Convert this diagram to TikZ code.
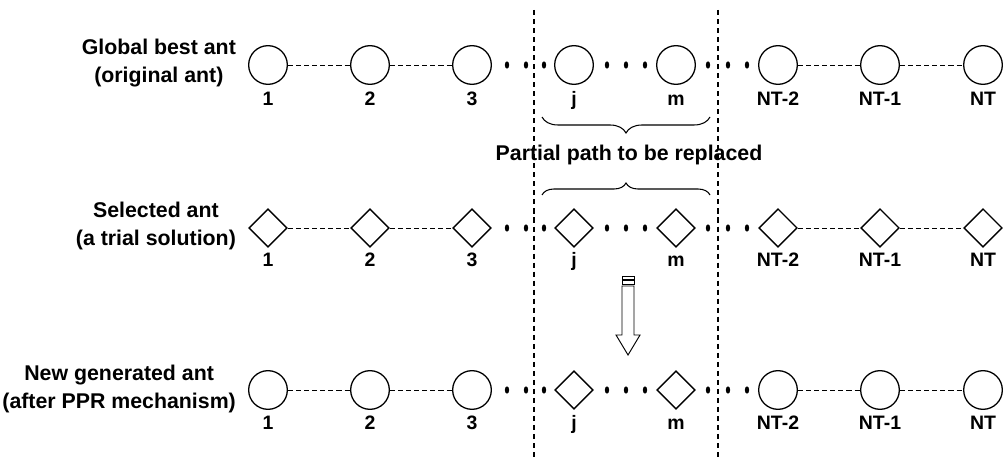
\documentclass[tikz,border=0pt]{standalone}
\usepackage{fontspec}
\setmainfont{Liberation Sans}
\usetikzlibrary{shapes.geometric,decorations.pathreplacing}

\begin{document}
\begin{tikzpicture}[
	x=0.03cm, y=-0.03cm,
	ant/.style={circle, draw, line width=1.1pt, minimum size=1.16cm, inner sep=0pt},
	trial/.style={diamond, draw, line width=1.1pt, minimum size=1.15cm, inner sep=0pt},
	link/.style={line width=0.8pt, dash pattern=on 4.3pt off 2.6pt},
	idx/.style={font=\fontsize{16.6}{20}\selectfont\bfseries, anchor=base},
	rowname/.style={font=\fontsize{18.2}{23.4}\selectfont\bfseries, align=center, anchor=east},
	gap/.style={fill, ellipse, minimum width=0.13cm, minimum height=0.22cm, inner sep=0pt},
	cut/.style={line width=0.9pt, dash pattern=on 4.3pt off 3.4pt}
	]

	\useasboundingbox (0,0) rectangle (1003,460);

	% --- ZONA SOSTITUITA ---
	\draw[cut] (534,10) -- (534,460);
	\draw[cut] (718,10) -- (718,460);

	% --- RIGA 1: formica migliore ---
	\node[rowname] (t1) at (240,63) {Global best ant\\(original ant)};
	\foreach \x/\t/\n in {268/1/a, 370/2/b, 472/3/c, 574/j/j, 676/m/m, 778/NT-2/p, 880/NT-1/q, 983/NT/r}{
		\node[ant] (g\n) at (\x,65) {};
		\node[idx] (gl\n) at (\x,106) {\t};
	}

	% --- RIGA 2: formica di prova ---
	\node[rowname] (t2) at (240,226) {Selected ant\\(a trial solution)};
	\foreach \x/\t/\n in {268/1/a, 370/2/b, 472/3/c, 574/j/j, 676/m/m, 778/NT-2/p, 880/NT-1/q, 983/NT/r}{
		\node[trial] (s\n) at (\x,228) {};
		\node[idx] (sl\n) at (\x,267) {\t};
	}

	% --- RIGA 3: nuova formica ---
	\node[rowname] (t3) at (240,389) {New generated ant\\(after PPR mechanism)};
	\foreach \x/\t/\n/\s in {268/1/a/ant, 370/2/b/ant, 472/3/c/ant, 574/j/j/trial, 676/m/m/trial, 778/NT-2/p/ant, 880/NT-1/q/ant, 983/NT/r/ant}{
		\node[\s] (n\n) at (\x,390) {};
		\node[idx] (nl\n) at (\x,430) {\t};
	}

	% --- COLLEGAMENTI ---
	\foreach \r in {g,s,n}{
		\draw[link] (\r a) -- (\r b);
		\draw[link] (\r b) -- (\r c);
		\draw[link] (\r p) -- (\r q);
		\draw[link] (\r q) -- (\r r);
	}

	% puntini
	\foreach \y/\r in {65/g, 228/s, 390/n}{
		\foreach \x in {507, 526, 544, 607, 626, 645, 708, 728, 747}
			\node[gap] (d\r\x) at (\x,\y) {};
	}

	% --- GRAFFE ---
	\draw[line width=0.9pt, decorate, decoration={brace, amplitude=0.48cm, mirror}] (542,117) -- (710,117);
	\node[font=\fontsize{18.2}{22}\selectfont\bfseries] (part) at (629,155) {Partial path to be replaced};
	\draw[line width=0.9pt, decorate, decoration={brace, amplitude=0.36cm}] (542,195) -- (710,195);

	% --- FRECCIA ---
	\draw[line width=0.8pt, fill=white] (622,276.5) rectangle (634,279);
	\draw[line width=0.8pt, fill=white] (622,280.5) rectangle (634,284);
	\draw[line width=0.8pt, fill=white] (622,286) -- (634,286) -- (634,335) -- (640,335)
		-- (628,355) -- (616,335) -- (622,335) -- cycle;

\end{tikzpicture}
\end{document}
